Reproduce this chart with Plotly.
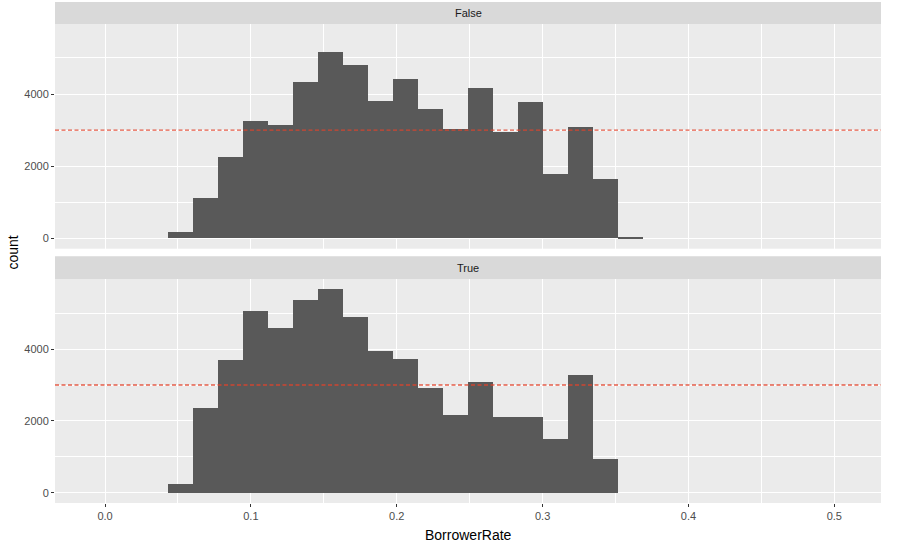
import plotly.graph_objects as go
from plotly.subplots import make_subplots

# ---- data ----
bin_width = 0.017155
bin_centers = [0.05147, 0.06862, 0.08578, 0.10293, 0.12009, 0.13724, 0.15440,
               0.17155, 0.18871, 0.20586, 0.22302, 0.24017, 0.25733, 0.27448,
               0.29164, 0.30879, 0.32595, 0.34310, 0.36026]
counts_false = [177, 1120, 2255, 3260, 3141, 4332, 5172, 4803, 3814, 4415,
                3584, 3030, 4174, 2956, 3787, 1792, 3094, 1634, 20]
counts_true = [249, 2355, 3684, 5041, 4579, 5346, 5659, 4884, 3942, 3712,
               2917, 2169, 3083, 2114, 2114, 1496, 3269, 931, 0]
facet_labels = ["False", "True"]
ref_line = 3000
x_ticks = [0.0, 0.1, 0.2, 0.3, 0.4, 0.5]
x_tick_text = ["0.0", "0.1", "0.2", "0.3", "0.4", "0.5"]
y_ticks = [0, 2000, 4000]
y_tick_text = ["0", "2000", "4000"]

FONT = "Liberation Sans, Arial, sans-serif"
BAR = "#595959"
PANEL = "#EBEBEB"
STRIP = "#D9D9D9"

yr = [-283, 5941]
xr = [-0.0343, 0.532]

fig = make_subplots(rows=2, cols=1, shared_xaxes=False)

for i, cnt in enumerate([counts_false, counts_true]):
    fig.add_trace(go.Bar(x=bin_centers, y=cnt, width=bin_width,
                         marker=dict(color=BAR, line=dict(width=0)),
                         showlegend=False, hoverinfo="skip"), row=i + 1, col=1)
for i in range(2):
    fig.add_trace(go.Scatter(x=xr, y=[ref_line, ref_line], mode="lines",
                             line=dict(color="rgba(226,66,42,0.85)", width=1.3, dash="4px,2.5px"),
                             showlegend=False, hoverinfo="skip", cliponaxis=True),
                  row=i + 1, col=1)

top_dom = [0.5076, 0.9561]
bot_dom = [0.0, 0.4465]

axis_common = dict(
    range=xr, tickvals=x_ticks, ticktext=x_tick_text,
    showgrid=True, gridcolor="white", gridwidth=1.4,
    minor=dict(showgrid=True, gridcolor="white", gridwidth=0.7, dtick=0.05, tick0=0),
    zeroline=False, showline=False,
    ticks="outside", ticklen=3, tickwidth=1, tickcolor="#333333",
    tickfont=dict(family=FONT, size=11, color="#4D4D4D"),
)
yaxis_common = dict(
    range=yr, tickvals=y_ticks, ticktext=y_tick_text,
    showgrid=True, gridcolor="white", gridwidth=1.4,
    minor=dict(showgrid=True, gridcolor="white", gridwidth=0.7, dtick=1000, tick0=0),
    zeroline=False, showline=False,
    ticks="outside", ticklen=3, tickwidth=1, tickcolor="#333333",
    tickfont=dict(family=FONT, size=11, color="#4D4D4D"),
)

fig.update_layout(
    xaxis=dict(axis_common, showticklabels=False, ticks="", anchor="y"),
    xaxis2=dict(axis_common, anchor="y2"),
    yaxis=dict(yaxis_common, domain=top_dom, anchor="x"),
    yaxis2=dict(yaxis_common, domain=bot_dom, anchor="x2"),
)

shapes = []
annotations = []
# facet strips
for (y0, y1), lab in zip([(0.9561, 1.0), (0.4465, 0.4924)], facet_labels):
    shapes.append(dict(type="rect", xref="paper", yref="paper", x0=0, x1=1,
                       y0=y0, y1=y1, fillcolor=STRIP, line=dict(width=0), layer="below"))
    annotations.append(dict(text=lab, xref="paper", yref="paper", x=0.5, y=(y0 + y1) / 2,
                            showarrow=False, xanchor="center", yanchor="middle",
                            font=dict(family=FONT, size=11, color="#1A1A1A")))

annotations.append(dict(text="count", xref="paper", yref="paper", x=-0.052, y=0.5,
                        textangle=-90, showarrow=False, xanchor="center", yanchor="middle",
                        font=dict(family=FONT, size=14, color="#000000")))
annotations.append(dict(text="BorrowerRate", xref="paper", yref="paper", x=0.5, y=-0.064,
                        showarrow=False, xanchor="center", yanchor="middle",
                        font=dict(family=FONT, size=14, color="#000000")))

fig.update_layout(
    shapes=shapes, annotations=annotations,
    width=901, height=553,
    margin=dict(l=55, r=20, t=2, b=50),
    paper_bgcolor="white", plot_bgcolor=PANEL,
    bargap=0, barmode="overlay",
    font=dict(family=FONT),
)

fig.write_html("out.html", config={"displayModeBar": False})
